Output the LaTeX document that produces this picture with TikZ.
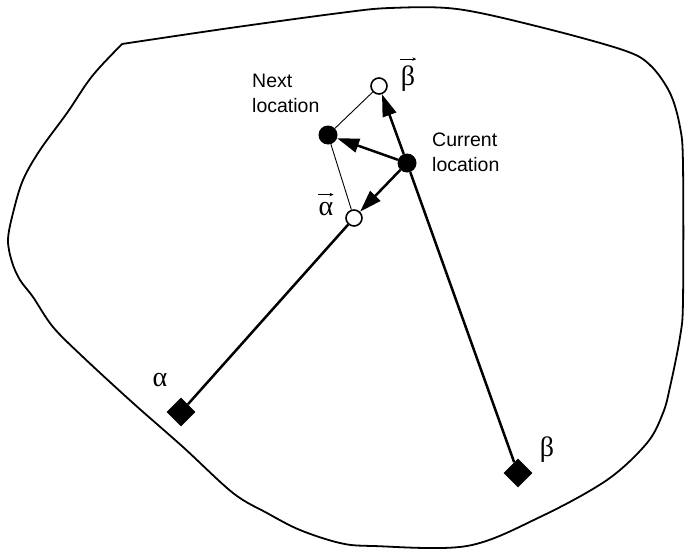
\documentclass[tikz,border=0pt]{standalone}
\usepackage{fontspec}
\setmainfont{Liberation Sans}
\newfontfamily\greekfont{Liberation Serif}
\usetikzlibrary{shapes.geometric,arrows.meta}
\begin{document}
\begin{tikzpicture}[x=1pt,y=-1pt,
  outline/.style={line width=1.8pt, line join=round},
  thickline/.style={line width=2.5pt},
  thinline/.style={line width=0.9pt},
  arr/.style={thickline, -{Triangle[length=22pt,width=14pt]}},
  vecarrow/.style={line width=0.8pt, -{Stealth[length=4pt,width=3.5pt]}},
  dot/.style={circle, fill=black, inner sep=0pt, minimum size=19pt},
  hollow/.style={circle, draw, fill=white, line width=1.6pt, inner sep=0pt, minimum size=16pt},
  diam/.style={diamond, fill=black, inner sep=0pt, minimum size=29pt},
  lbl/.style={font=\fontsize{19.5}{25}\selectfont, align=left, inner sep=0pt, anchor=north west},
  greek/.style={font=\greekfont\fontsize{28}{28}\selectfont, inner sep=0pt}
]
\useasboundingbox (0,0) rectangle (685,549);

% region outline
\draw[outline] plot[smooth, tension=0.55] coordinates {
  (122,44) (230,28) (340,13) (390,8) (457,9) (540,27) (623,50) (650,65)
  (670,93) (680,127) (683,165) (683,300) (680,337) (670,387) (663,413)
  (647,443) (607,480) (540,517) (467,546) (373,546) (340,543) (300,530)
  (267,513) (233,493) (183,447) (133,403) (83,357) (53,327) (33,297)
  (20,280) (12,262) (8,240) (13,213) (23,180) (40,150) (67,113) (87,83)
  (100,67) (122,44)};

% nodes
\node[diam] (a) at (181,412) {};
\node[diam] (b) at (518,473) {};
\node[dot] (cur) at (407,163) {};
\node[dot] (next) at (328,135) {};
\node[hollow] (av) at (354,218) {};
\node[hollow] (bv) at (379,86) {};

% connectors
\draw[thickline] (a) -- (av);
\draw[thickline] (b) -- (cur);
\draw[thinline] (bv) -- (next);
\draw[thinline] (next) -- (av);
\draw[arr] (cur) -- (bv);
\draw[arr] (cur) -- (next);
\draw[arr] (cur) -- (av);

% labels
\node[lbl] (lnext) at (252,74) {Next\\location};
\node[lbl] (lcur) at (432,133) {Current\\location};
\node[greek] (la) at (160,380) {α};
\node[greek] (lb) at (547,450) {β};
\node[greek, anchor=base] (lbv) at (408,85) {β};
\node[greek, anchor=base] (lav) at (326,215) {α};
\draw[vecarrow] ([xshift=-1pt,yshift=6pt]lbv.north west) -- ([xshift=1pt,yshift=6pt]lbv.north east);
\draw[vecarrow] ([yshift=7pt]lav.north west) -- ([yshift=7pt]lav.north east);
\end{tikzpicture}
\end{document}
